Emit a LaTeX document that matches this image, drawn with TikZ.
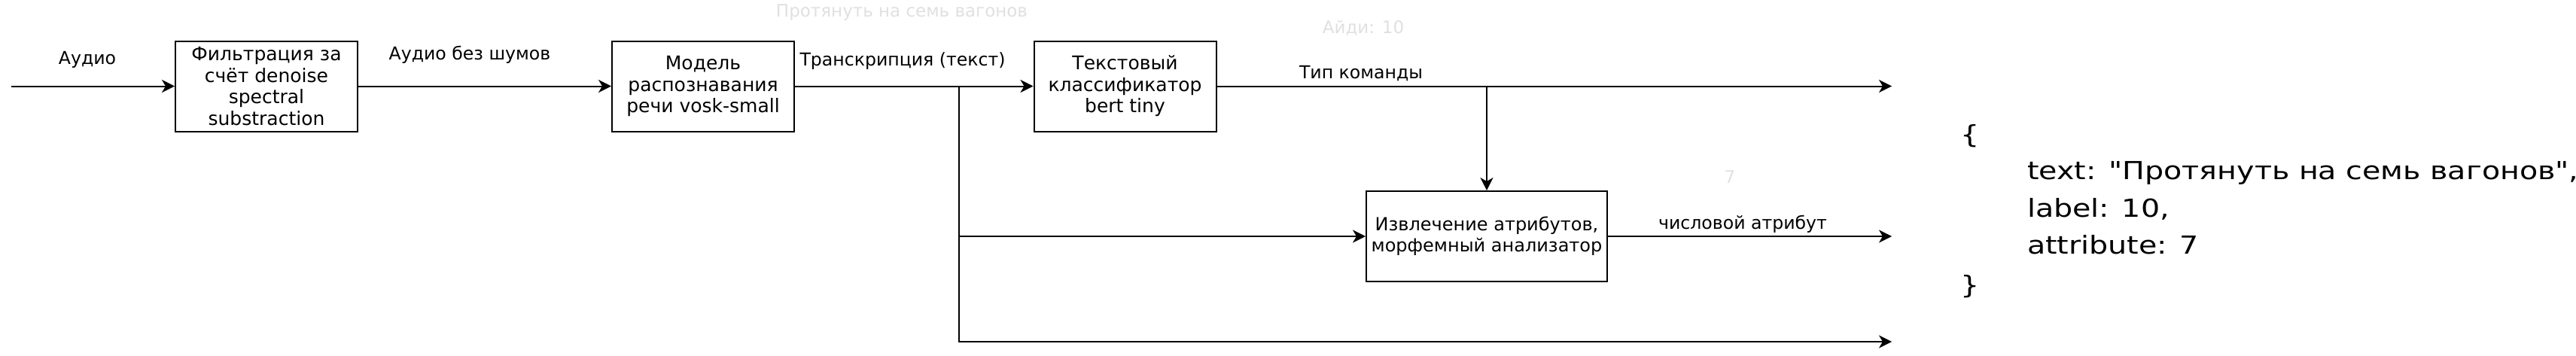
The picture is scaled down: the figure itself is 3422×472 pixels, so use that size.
\documentclass[tikz,border=0pt]{standalone}
\usepackage{fontspec}
\setmainfont{DejaVu Sans}
\newfontfamily\jsonfont[FakeStretch=1.2]{DejaVu Sans}
\usetikzlibrary{arrows.meta}
\begin{document}
\begin{tikzpicture}[x=0.5pt,y=-0.5pt,
    blok/.style={draw,line width=1pt,minimum height=60pt,align=center,inner sep=1pt,
      font=\fontsize{12.5}{14.25}\selectfont},
    lbl/.style={font=\fontsize{11.8}{14.25}\selectfont},
    ghost/.style={font=\fontsize{11.5}{14.25}\selectfont,text=black!12},
    flow/.style={line width=1pt,-{Stealth[length=8.5pt,width=8.5pt,inset=2.5pt]}},
    json/.style={anchor=base west,font=\jsonfont\fontsize{16.5}{20}\selectfont}]
  \useasboundingbox (0,0) rectangle (3422,472);
  \node[blok,minimum width=121pt] (filt) at (354,114.5) {Фильтрация за\\счёт denoise\\spectral\\substraction};
  \node[blok,minimum width=121pt] (asr) at (934,114.5) {Модель\\распознавания\\речи vosk-small};
  \node[blok,minimum width=121pt] (cls) at (1494.5,114.5) {Текстовый\\классификатор\\bert tiny};
  \node[blok,minimum width=160pt,font=\fontsize{12}{14}\selectfont] (attr) at (1975,314) {Извлечение атрибутов,\\морфемный анализатор};
  \coordinate (src) at (15,114.5);
  \coordinate (br1) at (1274,114.5);
  \coordinate (br2) at (1975,114.5);
  \coordinate (out1) at (2513,114.5);
  \coordinate (out2) at (2513,314);
  \coordinate (out3) at (2513,454);
  \draw[flow] (src) -- (filt);
  \draw[flow] (filt) -- (asr);
  \draw[flow] (asr) -- (cls);
  \draw[flow] (cls) -- (out1);
  \draw[flow] (br2) -- (attr);
  \draw[flow] (br1) |- (attr);
  \draw[flow] (br1) |- (out3);
  \draw[flow] (attr) -- (out2);
  \node[lbl] (l1) at (116,79) {Аудио};
  \node[lbl] (l2) at (624,73) {Аудио без шумов};
  \node[lbl] (l3) at (1199,81) {Транскрипция (текст)};
  \node[lbl] (l4) at (1808,98) {Тип команды};
  \node[lbl] (l5) at (2315,298) {числовой атрибут};
  \node[ghost] (g1) at (1198,17) {Протянуть на семь вагонов};
  \node[ghost] (g2) at (1811,37) {Айди: 10};
  \node[ghost] (g3) at (2298,235) {7};
  \node[json] (jo) at (2597,190) {\{};
  \node[json] (j1) at (2686,238) {text: "Протянуть на семь вагонов",};
  \node[json] (j2) at (2686,288) {label: 10,};
  \node[json] (j3) at (2686,337) {attribute: 7};
  \node[json] (jc) at (2597,390) {\}};
\end{tikzpicture}
\end{document}
